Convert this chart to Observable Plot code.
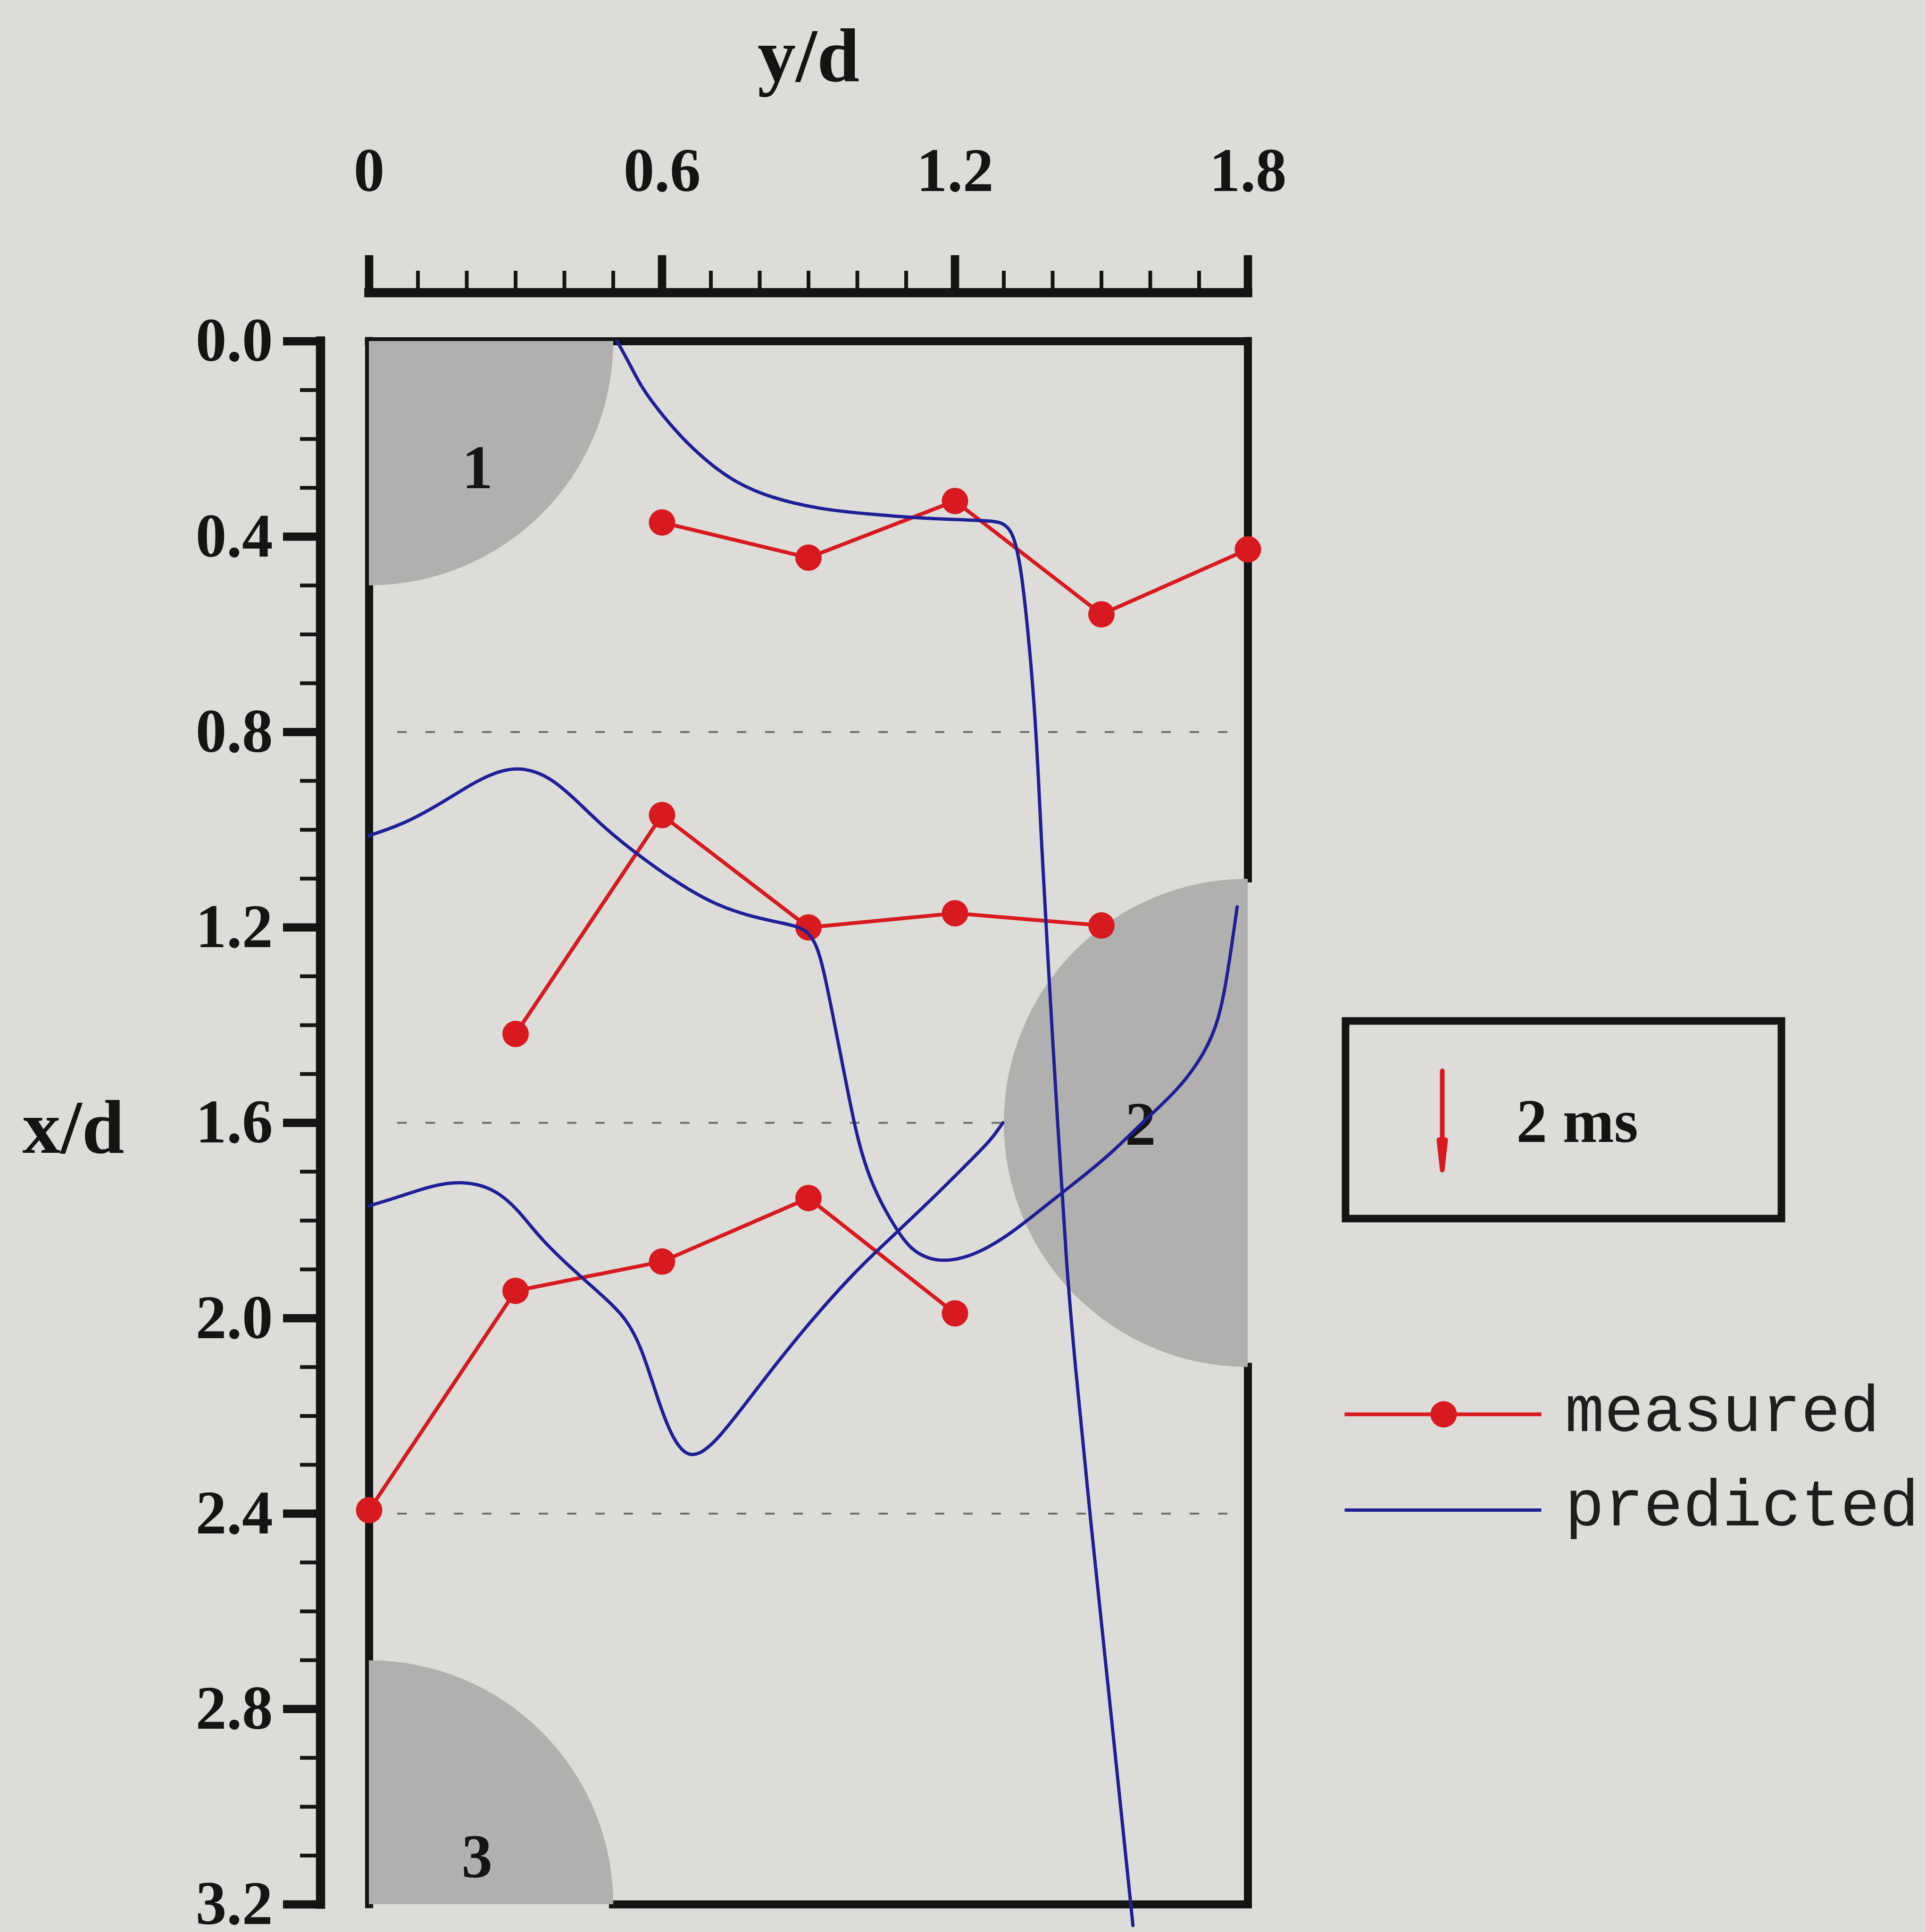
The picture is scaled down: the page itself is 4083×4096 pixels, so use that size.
<!DOCTYPE html>
<html><head><meta charset="utf-8">
<script src="https://cdn.jsdelivr.net/npm/d3@7"></script>
<script src="https://cdn.jsdelivr.net/npm/@observablehq/plot@0.6"></script>
<style>
html,body{margin:0;padding:0;background:#dedcd8;}
body{width:4083px;height:4096px;position:relative;overflow:hidden;}
#chart{position:absolute;left:0;top:0;}
#legend{position:absolute;left:2830px;top:2140px;}
</style></head><body>
<div id="chart"></div>
<div id="legend"></div>
<script>
// ---------- data ----------
const xDomain = [0, 1.8];          // y/d
const yDomain = [0, 3.2];          // x/d
const xTicks = [0, 0.6, 1.2, 1.8];
const xTickLabels = ["0", "0.6", "1.2", "1.8"];
const yTicks = [0, 0.4, 0.8, 1.2, 1.6, 2.0, 2.4, 2.8, 3.2];
const yTickLabels = ["0.0", "0.4", "0.8", "1.2", "1.6", "2.0", "2.4", "2.8", "3.2"];
const xMinorTicks = [0,0.1,0.2,0.3,0.4,0.5,0.6,0.7,0.8,0.9,1.0,1.1,1.2,1.3,1.4,1.5,1.6,1.7,1.8];
const yMinorTicks = [0,0.1,0.2,0.3,0.4,0.5,0.6,0.7,0.8,0.9,1.0,1.1,1.2,1.3,1.4,1.5,1.6,1.7,1.8,1.9,2.0,2.1,2.2,2.3,2.4,2.5,2.6,2.7,2.8,2.9,3.0,3.1,3.2];
const dashedLevels = [0.8, 1.6, 2.4];

const cylIds = ["1", "2", "3"];
const cylCx = [0, 1.8, 0];
const cylCy = [0, 1.6, 3.2];
const cylRadius = 0.5;
const cylLabelX = [0.222, 1.58, 0.221];
const cylLabelY = [0.26, 1.604, 3.104];

// measured (red): y/d stations and x/d positions
const measA_yd = [0.6, 0.9, 1.2, 1.5, 1.8];
const measA_xd = [0.371, 0.443, 0.327, 0.559, 0.426];
const measB_yd = [0.3, 0.6, 0.9, 1.2, 1.5];
const measB_xd = [1.418, 0.970, 1.200, 1.171, 1.196];
const measC_yd = [0.0, 0.3, 0.6, 0.9, 1.2];
const measC_xd = [2.393, 1.944, 1.884, 1.754, 1.990];

// predicted (blue)
const pred1_yd = [0.508,0.532,0.559,0.601,0.649,0.703,0.751,0.820,0.923,1.026,1.125,1.231,1.279,1.299,1.317,1.327,1.336,1.349,1.363,1.372,1.376,1.391,1.4115,1.4286,1.4445,1.476,1.5216,1.5645];
const pred1_xd = [0.000,0.043,0.097,0.152,0.207,0.255,0.289,0.320,0.344,0.354,0.362,0.366,0.368,0.372,0.390,0.426,0.472,0.586,0.746,0.914,1.004,1.278,1.621,1.895,2.079,2.400,2.827,3.243];
const pred2_yd = [0.000,0.072,0.146,0.221,0.273,0.317,0.369,0.421,0.480,0.555,0.629,0.703,0.778,0.852,0.897,0.919,0.934,0.956,0.978,1.000,1.030,1.076,1.110,1.151,1.192,1.247,1.316,1.384,1.453,1.521,1.590,1.658,1.713,1.741,1.758,1.778];
const pred2_xd = [1.012,0.988,0.947,0.899,0.877,0.873,0.891,0.936,0.995,1.055,1.107,1.151,1.177,1.192,1.203,1.240,1.300,1.411,1.523,1.634,1.730,1.813,1.861,1.881,1.883,1.868,1.826,1.771,1.717,1.662,1.593,1.532,1.456,1.388,1.299,1.158];
const pred3_yd = [0.000,0.063,0.132,0.194,0.255,0.303,0.345,0.400,0.461,0.523,0.557,0.591,0.619,0.646,0.674,0.715,0.783,0.852,0.921,0.989,1.041,1.144,1.233,1.274,1.298];
const pred3_xd = [1.770,1.751,1.727,1.719,1.734,1.775,1.830,1.885,1.939,1.994,2.056,2.166,2.241,2.279,2.282,2.248,2.159,2.070,1.987,1.912,1.861,1.765,1.676,1.635,1.600];

const scaleArrowValue = [2];
const scaleArrowLabel = ["2 ms"];
const legendLabels = ["measured", "predicted"];

// ---------- tables ----------
const cylinders = cylIds.map((id, i) => ({id, cx: cylCx[i], cy: cylCy[i], lx: cylLabelX[i], ly: cylLabelY[i]}));
const measured = [
  ...measA_yd.map((v, i) => ({group: "A", yd: v, xd: measA_xd[i]})),
  ...measB_yd.map((v, i) => ({group: "B", yd: v, xd: measB_xd[i]})),
  ...measC_yd.map((v, i) => ({group: "C", yd: v, xd: measC_xd[i]}))
];
const predicted = [
  ...pred1_yd.map((v, i) => ({group: "P1", yd: v, xd: pred1_xd[i]})),
  ...pred2_yd.map((v, i) => ({group: "P2", yd: v, xd: pred2_xd[i]})),
  ...pred3_yd.map((v, i) => ({group: "P3", yd: v, xd: pred3_xd[i]}))
];
const cyl2 = cylinders[1], cyl3 = cylinders[2];
const wallsV = [
  {x: xDomain[0], y1: yDomain[0], y2: yDomain[1]},
  {x: xDomain[1], y1: yDomain[0], y2: cyl2.cy - cylRadius},
  {x: xDomain[1], y1: cyl2.cy + cylRadius, y2: yDomain[1]}
];
const wallsH = [
  {y: yDomain[0], x1: xDomain[0], x2: xDomain[1]},
  {y: yDomain[1], x1: cyl3.cx + cylRadius, x2: xDomain[1]}
];
const xLab = new Map(xTicks.map((t, i) => [t, xTickLabels[i]]));
const yLab = new Map(yTicks.map((t, i) => [t, yTickLabels[i]]));

// ---------- layout / style ----------
const W = 4083, H = 4096;
const mL = 782, mR = W - 2645, mT = 723, mB = H - 4037;
const pxPerUnit = (W - mL - mR) / (xDomain[1] - xDomain[0]);
const INK = "#141414", RED = "#d61a20", BLUE = "#1f1f96", GRAY = "#b1b0ae";
const SERIF = "Liberation Serif";
const AXOFF = -103;

const chart = Plot.plot({
  width: W, height: H,
  marginLeft: mL, marginRight: mR, marginTop: mT, marginBottom: mB,
  x: {domain: xDomain},
  y: {domain: yDomain, reverse: true},
  style: {background: "transparent", color: INK, fontFamily: SERIF, overflow: "visible"},
  marks: [
    Plot.ruleY(dashedLevels, {y: d => d, stroke: "#6e6e6e", strokeWidth: 4, strokeDasharray: "20,40", insetLeft: 60, insetRight: 38}),
    Plot.ruleX(wallsV, {x: "x", y1: "y1", y2: "y2", stroke: INK, strokeWidth: 17, strokeLinecap: "square"}),
    Plot.ruleY(wallsH, {y: "y", x1: "x1", x2: "x2", stroke: INK, strokeWidth: 17, strokeLinecap: "square"}),
    Plot.dot(cylinders, {x: "cx", y: "cy", r: cylRadius * pxPerUnit, fill: GRAY, stroke: null, clip: "frame"}),
    Plot.text(cylinders, {x: "lx", y: "ly", text: "id", fontSize: 131, fontWeight: "bold", fill: INK}),
    Plot.line(measured, {x: "yd", y: "xd", z: "group", stroke: RED, strokeWidth: 8}),
    Plot.dot(measured, {x: "yd", y: "xd", r: 28, fill: RED, stroke: null}),
    Plot.line(predicted, {x: "yd", y: "xd", z: "group", stroke: BLUE, strokeWidth: 7, curve: "basis"}),
    // left axis
    Plot.ruleX([xDomain[0]], {dx: AXOFF, stroke: INK, strokeWidth: 19.5, strokeLinecap: "square"}),
    Plot.axisY({ticks: yMinorTicks, anchor: "left", dx: AXOFF, tickSize: 43, strokeWidth: 8, tickFormat: () => "", label: null}),
    Plot.axisY({ticks: yTicks, anchor: "left", dx: AXOFF, tickSize: 79, tickPadding: 22, strokeWidth: 17.6,
      tickFormat: d => yLab.get(d), fontSize: 131, fontWeight: "bold", label: null}),
    // top axis
    Plot.ruleY([yDomain[0]], {dy: AXOFF, stroke: INK, strokeWidth: 19.5, strokeLinecap: "square"}),
    Plot.axisX({ticks: xMinorTicks, anchor: "top", dy: AXOFF, tickSize: 47, strokeWidth: 8, tickFormat: () => "", label: null}),
    Plot.axisX({ticks: xTicks, anchor: "top", dy: AXOFF, tickSize: 80, tickPadding: 136, strokeWidth: 17.6,
      tickFormat: d => xLab.get(d), fontSize: 131, fontWeight: "bold", label: null}),
    // titles
    Plot.text(["y/d"], {frameAnchor: "top", dy: 171 - mT, lineAnchor: "bottom", fontSize: 162, fontWeight: "bold", fill: INK}),
    Plot.text(["x/d"], {frameAnchor: "left", dx: 47 - mL, dy: 12, textAnchor: "start", fontSize: 162, fontWeight: "bold", fill: INK})
  ]
});
document.getElementById("chart").append(chart);

// ---------- legend ----------
const arrowShape = {
  draw(ctx, l) {
    const h = 64, w = 7;
    ctx.moveTo(0, 0); ctx.lineTo(0, -l + h);
    ctx.moveTo(-w, -l + h); ctx.lineTo(0, -l); ctx.lineTo(w, -l + h); ctx.closePath();
  }
};
const segShape = {draw(ctx, l) { ctx.moveTo(0, 0); ctx.lineTo(0, -l); }};
const LW = 1250, LH = 1150, boxW = 924, boxH = 419, lmL = 22, lmT = 24;
const legend = Plot.plot({
  width: LW, height: LH,
  marginLeft: lmL, marginTop: lmT, marginRight: LW - lmL - boxW, marginBottom: LH - lmT - boxH,
  length: {domain: [0, 2], range: [0, 210]},
  style: {background: "transparent", color: INK, fontFamily: SERIF, overflow: "visible"},
  marks: [
    Plot.frame({stroke: INK, strokeWidth: 16}),
    Plot.vector(scaleArrowValue, {length: d => d, rotate: 180, anchor: "start", frameAnchor: "top-left", dx: 205, dy: 106,
      shape: arrowShape, stroke: RED, fill: RED, strokeWidth: 10}),
    Plot.text(scaleArrowLabel, {frameAnchor: "top-left", dx: 362, dy: 256, textAnchor: "start", lineAnchor: "bottom",
      fontSize: 131, fontWeight: "bold", fill: INK}),
    Plot.vector([legendLabels[0]], {frameAnchor: "top-left", dx: -2, dy: 834, length: 417, rotate: 90, anchor: "start",
      shape: segShape, stroke: RED, strokeWidth: 8, strokeLinecap: "butt"}),
    Plot.dot([legendLabels[0]], {frameAnchor: "top-left", dx: 208, dy: 834, r: 28, fill: RED, stroke: null}),
    Plot.text([legendLabels[0]], {frameAnchor: "top-left", dx: 465, dy: 869, textAnchor: "start", lineAnchor: "bottom",
      fontFamily: "Liberation Mono", fontSize: 139, fill: "#1e1e1e"}),
    Plot.vector([legendLabels[1]], {frameAnchor: "top-left", dx: -2, dy: 1037, length: 417, rotate: 90, anchor: "start",
      shape: segShape, stroke: BLUE, strokeWidth: 7, strokeLinecap: "butt"}),
    Plot.text([legendLabels[1]], {frameAnchor: "top-left", dx: 465, dy: 1069, textAnchor: "start", lineAnchor: "bottom",
      fontFamily: "Liberation Mono", fontSize: 139, fill: "#1e1e1e"})
  ]
});
document.getElementById("legend").append(legend);
</script>
</body></html>
